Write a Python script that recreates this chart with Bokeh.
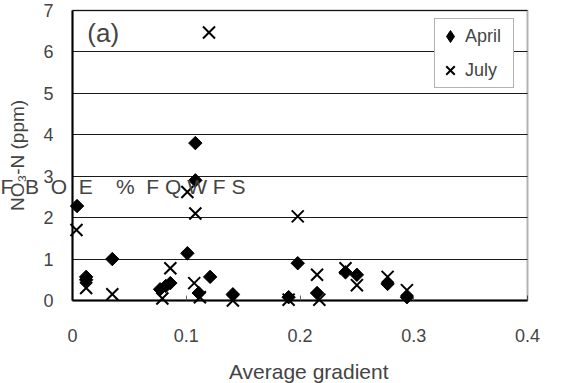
import math
from bokeh.plotting import figure
from bokeh.models import (ColumnDataSource, FixedTicker, Label, Legend, LegendItem,
                          BoxAnnotation, Grid)
from bokeh.embed import file_html
from bokeh.resources import INLINE

# ---- data ----
april_x = [0.004, 0.012, 0.012, 0.035, 0.077, 0.082, 0.086, 0.101, 0.108, 0.108,
           0.111, 0.121, 0.141, 0.190, 0.198, 0.215, 0.240, 0.250, 0.277, 0.294]
april_y = [2.28, 0.57, 0.50, 1.00, 0.27, 0.35, 0.42, 1.14, 3.80, 2.90,
           0.18, 0.57, 0.15, 0.08, 0.90, 0.18, 0.68, 0.62, 0.40, 0.08]

july_x = [0.0035, 0.012, 0.035, 0.079, 0.086, 0.107, 0.112, 0.108, 0.101, 0.120,
          0.141, 0.190, 0.198, 0.215, 0.217, 0.240, 0.250, 0.277, 0.294]
july_y = [1.70, 0.30, 0.15, 0.05, 0.78, 0.42, 0.08, 2.10, 2.62, 6.47,
          0.00, 0.02, 2.03, 0.62, 0.02, 0.78, 0.37, 0.57, 0.25]

x_ticks = [0, 0.1, 0.2, 0.3, 0.4]
x_tick_labels = ["0", "0.1", "0.2", "0.3", "0.4"]
y_ticks = [0, 1, 2, 3, 4, 5, 6, 7]
y_tick_labels = ["0", "1", "2", "3", "4", "5", "6", "7"]
x_bounds = (0, 0.4)
y_bounds = (0, 7)

series_names = ["April", "July"]
panel_tag = "(a)"
y_title = "NO\u2083-N (ppm)"
NB = "\u00a0"
x_title = NB * 3 + "Average gradient"   # small leading pad, as in the reference
# stray (garbled) text that overlaps the plot in the reference
stray_text = ("F" + NB * 2 + "B" + NB * 2 + "O" + NB * 2 + "E" + NB * 4 + "%" + NB * 2 +
              "F" + NB + "Q" + NB + "W" + NB + "F" + NB + "S")

FONT = "Liberation Sans"

# pixel geometry of the reference plot box: x 0..0.4 -> 72..527 px, y 0..7 -> 300..10 px
XS = 455 / 0.4
YS = 290 / 7.0
W, H = 569, 383
x_lo = -72 / XS
x_hi = 0.4 + (W - 527) / XS
y_hi = 7 + 10 / YS
y_lo = -(H - 300) / YS

p = figure(width=W, height=H, x_range=(x_lo, x_hi), y_range=(y_lo, y_hi),
           output_backend="svg", toolbar_location=None,
           min_border_left=0, min_border_right=0, min_border_top=0, min_border_bottom=0)

p.background_fill_color = "white"
p.border_fill_color = "white"
p.outline_line_color = None

# grid (limited to the plot box)
p.xgrid.grid_line_color = None
p.ygrid.grid_line_color = "#1a1a1a"
p.ygrid.grid_line_width = 1
p.ygrid.ticker = FixedTicker(ticks=y_ticks)
has_cross = "cross_bounds" in Grid.properties()
if has_cross:
    p.ygrid.cross_bounds = x_bounds
else:
    p.ygrid.grid_line_color = None
    p.segment(x0=[x_bounds[0]] * len(y_ticks), x1=[x_bounds[1]] * len(y_ticks),
              y0=y_ticks, y1=y_ticks, line_color="#1a1a1a", line_width=1)

# x axis, pinned at y = 0
p.xaxis.fixed_location = 0
p.xaxis.bounds = x_bounds
p.xaxis.ticker = FixedTicker(ticks=x_ticks)
p.xaxis.major_label_overrides = dict(zip(x_ticks, x_tick_labels))
p.xaxis.axis_label = x_title
p.xaxis.axis_label_text_font = FONT
p.xaxis.axis_label_text_font_size = "21px"
p.xaxis.axis_label_text_font_style = "normal"
p.xaxis.axis_label_standoff = 15
p.xaxis.major_label_text_font = FONT
p.xaxis.major_label_text_font_size = "18px"
p.xaxis.major_label_standoff = 28
p.xaxis.major_tick_in = 5
p.xaxis.major_tick_out = 0
p.xaxis.major_tick_line_color = "#666666"
p.xaxis.major_tick_line_width = 1
p.xaxis.minor_tick_line_color = None
p.xaxis.axis_line_width = 2
p.xaxis.axis_line_color = "black"

# y axis, pinned at x = 0
p.yaxis.fixed_location = 0
p.yaxis.bounds = y_bounds
p.yaxis.ticker = FixedTicker(ticks=y_ticks)
p.yaxis.major_label_overrides = dict(zip(y_ticks, y_tick_labels))
p.yaxis.axis_label = y_title
p.yaxis.axis_label_text_font = FONT
p.yaxis.axis_label_text_font_size = "19px"
p.yaxis.axis_label_text_font_style = "normal"
p.yaxis.axis_label_standoff = 12
p.yaxis.major_label_text_font = FONT
p.yaxis.major_label_text_font_size = "18px"
p.yaxis.major_label_standoff = 19
p.yaxis.major_tick_in = 0
p.yaxis.major_tick_out = 0
p.yaxis.minor_tick_line_color = None
p.yaxis.axis_line_width = 2
p.yaxis.axis_line_color = "black"

# plot-area box (top and right borders)
p.add_layout(BoxAnnotation(left=x_bounds[0], right=x_bounds[1], bottom=y_bounds[0],
                           top=y_bounds[1], fill_color=None, fill_alpha=0,
                           line_color="black", line_width=2))

src_a = ColumnDataSource(dict(x=april_x, y=april_y))
src_j = ColumnDataSource(dict(x=july_x, y=july_y))

r_a = p.scatter("x", "y", source=src_a, marker="square", angle=math.pi / 4, size=9.5,
                fill_color="black", line_color="black")
# same April points as diamonds (sit inside the squares) so the legend key is a diamond
r_a_key = p.scatter("x", "y", source=src_a, marker="diamond", size=12,
                    fill_color="black", line_color="black")
r_j = p.scatter("x", "y", source=src_j, marker="x", size=17, line_width=2,
                line_color="black")

legend = Legend(items=[LegendItem(label=series_names[0], renderers=[r_a_key]),
                       LegendItem(label=series_names[1], renderers=[r_j])],
                location=(434, 295))
legend.label_text_font = FONT
legend.label_text_font_size = "18px"
legend.glyph_width = 30
legend.glyph_height = 34
legend.label_height = 34
legend.label_width = 48
legend.label_standoff = 0
legend.spacing = 0
legend.padding = 0
legend.margin = 0
legend.border_line_color = "#666666"
legend.border_line_width = 1
legend.background_fill_color = "white"
legend.background_fill_alpha = 1
p.add_layout(legend, "center")

p.add_layout(Label(x=0.013, y=6.45, text=panel_tag, text_font=FONT, text_font_size="26px",
                   text_baseline="middle", text_align="left"))
p.add_layout(Label(x=x_lo, y=2.76, text=stray_text, text_font=FONT, text_font_size="21px",
                   text_baseline="middle", text_align="left"))

open("out.html", "w").write(file_html(p, INLINE))
